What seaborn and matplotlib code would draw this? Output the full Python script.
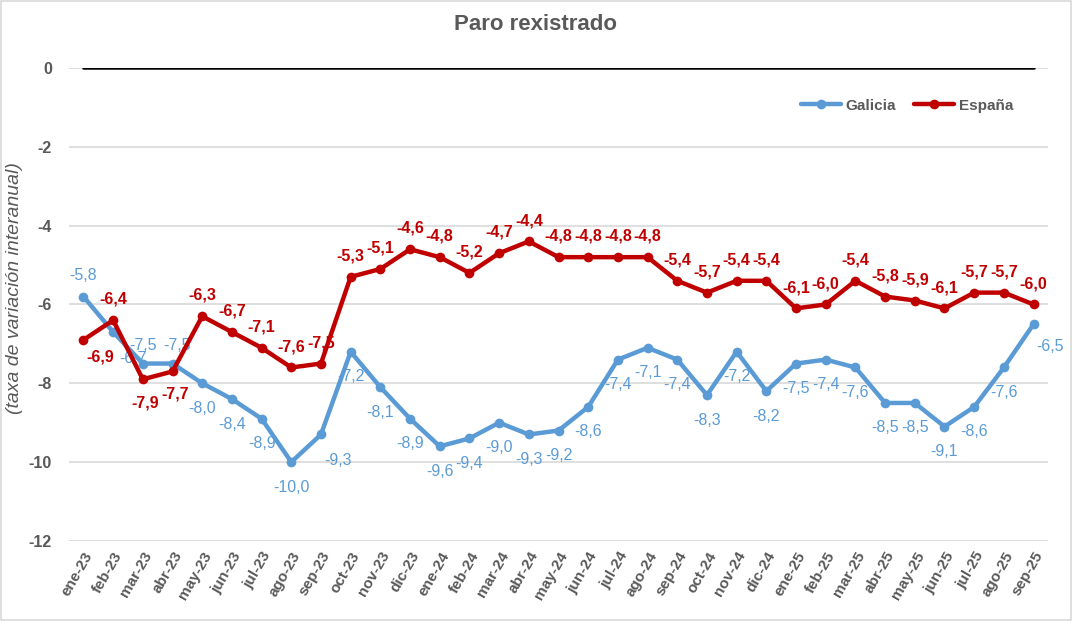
import pandas as pd
import numpy as np
import matplotlib.pyplot as plt
import seaborn as sns

# Data (taxa de variación interanual do paro rexistrado)
months = ['ene-23', 'feb-23', 'mar-23', 'abr-23', 'may-23', 'jun-23', 'jul-23', 'ago-23', 'sep-23',
          'oct-23', 'nov-23', 'dic-23', 'ene-24', 'feb-24', 'mar-24', 'abr-24', 'may-24', 'jun-24',
          'jul-24', 'ago-24', 'sep-24', 'oct-24', 'nov-24', 'dic-24', 'ene-25', 'feb-25', 'mar-25',
          'abr-25', 'may-25', 'jun-25', 'jul-25', 'ago-25', 'sep-25']
galicia = [-5.8, -6.7, -7.5, -7.5, -8.0, -8.4, -8.9, -10.0, -9.3, -7.2, -8.1, -8.9, -9.6, -9.4, -9.0,
           -9.3, -9.2, -8.6, -7.4, -7.1, -7.4, -8.3, -7.2, -8.2, -7.5, -7.4, -7.6, -8.5, -8.5, -9.1,
           -8.6, -7.6, -6.5]
espana = [-6.9, -6.4, -7.9, -7.7, -6.3, -6.7, -7.1, -7.6, -7.5, -5.3, -5.1, -4.6, -4.8, -5.2, -4.7,
          -4.4, -4.8, -4.8, -4.8, -4.8, -5.4, -5.7, -5.4, -5.4, -6.1, -6.0, -5.4, -5.8, -5.9, -6.1,
          -5.7, -5.7, -6.0]

blue = '#5B9BD5'
red = '#C00000'
grey = '#595959'

df = pd.DataFrame({'x': np.arange(len(months)), 'Galicia': galicia, 'España': espana})
long_df = df.melt(id_vars='x', var_name='serie', value_name='valor')

sns.set_style('white')
plt.rcParams['font.family'] = ['Liberation Sans', 'DejaVu Sans']

fig = plt.figure(figsize=(10.72, 6.21), dpi=100)
ax = fig.add_axes([0.064, 0.129, 0.914, 0.7615])

# grid and zero line
for y in range(-12, 1, 2):
    ax.axhline(y, color='#D9D9D9', lw=1.2, zorder=0)
ax.plot([0, len(months) - 1], [0, 0], color='black', lw=1.8, zorder=1)

sns.lineplot(data=long_df, x='x', y='valor', hue='serie', palette={'Galicia': blue, 'España': red},
             marker='o', markersize=7, markeredgewidth=0, lw=3.2, ax=ax, legend=True, zorder=3)

# data labels
def fmt(v):
    return f'{v:.1f}'.replace('.', ',')

gal_off = {0: (0, 15), 1: (14, -19), 2: (0, 13), 3: (3, 13), 8: (12, -19), 32: (12, -16)}
esp_off = {0: (12, -12), 2: (2, -17), 3: (2, -16)}
for i, v in enumerate(galicia):
    dx, dy = gal_off.get(i, (0, -18))
    ax.annotate(fmt(v), (i, v), xytext=(dx, dy), textcoords='offset points', ha='center',
                va='center', color=blue, fontsize=11.5, zorder=2)
for i, v in enumerate(espana):
    dx, dy = esp_off.get(i, (0, 15))
    ax.annotate(fmt(v), (i, v), xytext=(dx, dy), textcoords='offset points', ha='center',
                va='center', color=red, fontsize=11.5, fontweight='bold', zorder=4)

ax.set_xlim(-0.5, len(months) - 0.5)
ax.set_ylim(-12, 0)
ax.set_yticks(range(-12, 1, 2))
ax.set_yticklabels([str(y) for y in range(-12, 1, 2)], fontweight='bold', color=grey, fontsize=11.5)
ax.set_xticks(df['x'])
ax.set_xticklabels(months, rotation=60, ha='right', rotation_mode='anchor', fontweight='bold',
                   color=grey, fontsize=11)
ax.tick_params(axis='x', length=0, pad=6)
ax.tick_params(axis='y', length=0, pad=12)
for s in ax.spines.values():
    s.set_visible(False)

ax.set_xlabel('')
ax.set_ylabel('(taxa de variación interanual)', fontstyle='italic', color=grey, fontsize=14)
ax.yaxis.set_label_coords(-0.047, 0.535)

fig.suptitle('Paro rexistrado', x=0.5, y=0.977, fontsize=16, fontweight='bold', color=grey)

handles, labels = ax.get_legend_handles_labels()
leg = ax.legend(handles, labels, loc='center right', bbox_to_anchor=(0.978, 0.92), ncol=2, frameon=False,
                handlelength=2.6, columnspacing=1.2, handletextpad=0.3, fontsize=11)
for t in leg.get_texts():
    t.set_color(grey)
    t.set_fontweight('bold')

fig.add_artist(plt.Rectangle((0.001, 0.001), 0.998, 0.998, transform=fig.transFigure, fill=False,
                             edgecolor='#D9D9D9', lw=1.2))

fig.savefig('out.png', dpi=100)
